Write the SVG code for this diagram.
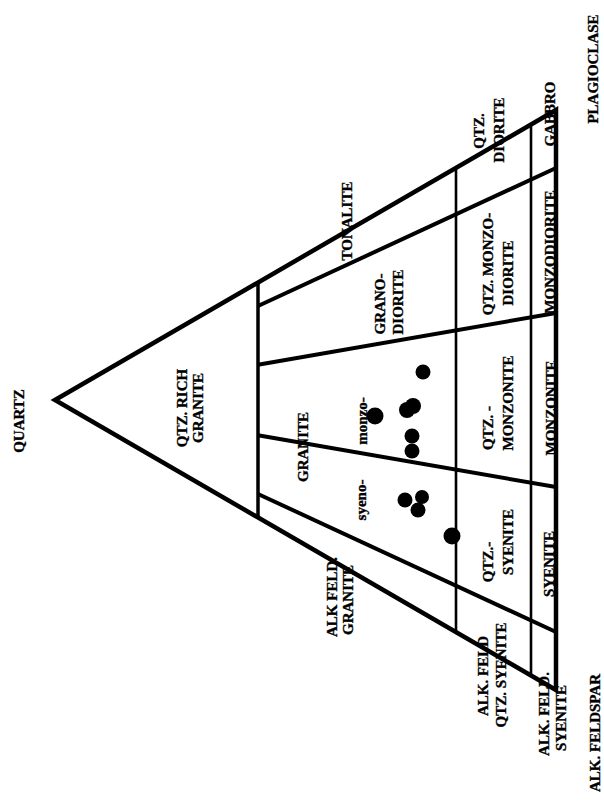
<svg xmlns="http://www.w3.org/2000/svg" width="604" height="803" viewBox="0 0 604 803">
<style>
text{font-family:"Liberation Serif","Times New Roman",serif;font-weight:bold;font-size:15px;fill:#000;stroke:#000;stroke-width:0.35;text-anchor:middle}
.edge{fill:none;stroke:#000;stroke-width:4.5;stroke-linejoin:miter}
.rad{stroke:#000;stroke-width:4;fill:none}
.q60{stroke:#000;stroke-width:3.5}
.qv{stroke:#000;stroke-width:2.6}
.pt{fill:#000}
</style>
<rect width="604" height="803" fill="#fff"/>
<g id="connectors">
<polygon class="edge" points="55,400 556,110 556,690"/>
<line class="q60" x1="258" y1="282.5" x2="258" y2="517.5"/>
<line class="qv" x1="456" y1="168" x2="456" y2="632"/>
<line class="qv" x1="531" y1="124.5" x2="531" y2="675.5"/>
<line class="rad" x1="258" y1="494" x2="556" y2="632"/>
<line class="rad" x1="258" y1="435.3" x2="556" y2="487"/>
<line class="rad" x1="258" y1="364.7" x2="556" y2="313"/>
<line class="rad" x1="258" y1="306" x2="556" y2="168"/>
</g>
<g id="apex-labels">
<text id="quartz" transform="translate(24,421) rotate(-90)">QUARTZ</text>
<text id="plagioclase" transform="translate(598,69) rotate(-90)">PLAGIOCLASE</text>
<text id="alkfeldspar" transform="translate(600,733) rotate(-90)">ALK. FELDSPAR</text>
</g>
<g id="qtz-rich-granite">
<text transform="translate(187,408) rotate(-90)">QTZ. RICH</text>
<text transform="translate(203,408) rotate(-90)">GRANITE</text>
</g>
<g id="tonalite"><text transform="translate(352,221) rotate(-90)">TONALITE</text></g>
<g id="granodiorite">
<text transform="translate(385,304) rotate(-90)">GRANO-</text>
<text transform="translate(403,302) rotate(-90)">DIORITE</text>
</g>
<g id="granite">
<text transform="translate(308,447) rotate(-90)">GRANITE</text>
<text transform="translate(367,421) rotate(-90)">monzo-</text>
<text transform="translate(366,500) rotate(-90)">syeno-</text>
</g>
<g id="alk-feld-granite">
<text transform="translate(337,597) rotate(-90)">ALK FELD.</text>
<text transform="translate(353,600) rotate(-90)">GRANITE</text>
</g>
<g id="qtz-diorite">
<text transform="translate(484,131) rotate(-90)">QTZ.</text>
<text transform="translate(504,130) rotate(-90)">DIORITE</text>
</g>
<g id="qtz-monzodiorite">
<text transform="translate(493,264) rotate(-90)">QTZ. MONZO-</text>
<text transform="translate(513,273) rotate(-90)">DIORITE</text>
</g>
<g id="qtz-monzonite">
<text transform="translate(493,428) rotate(-90)">QTZ. -</text>
<text transform="translate(513,403) rotate(-90)">MONZONITE</text>
</g>
<g id="qtz-syenite">
<text transform="translate(493,562) rotate(-90)">QTZ.-</text>
<text transform="translate(513,542) rotate(-90)">SYENITE</text>
</g>
<g id="alk-feld-qtz-syenite">
<text transform="translate(488,676) rotate(-90)">ALK. FELD</text>
<text transform="translate(506,675) rotate(-90)">QTZ. SYENITE</text>
</g>
<g id="gabbro"><text transform="translate(555,114) rotate(-90)">GABBRO</text></g>
<g id="monzodiorite"><text transform="translate(555,252) rotate(-90)">MONZODIORITE</text></g>
<g id="monzonite"><text transform="translate(556,408) rotate(-90)">MONZONITE</text></g>
<g id="syenite"><text transform="translate(554,564) rotate(-90)">SYENITE</text></g>
<g id="alk-feld-syenite">
<text transform="translate(549,714) rotate(-90)">ALK. FELD.</text>
<text transform="translate(566,718) rotate(-90)">SYENITE</text>
</g>
<g id="samples">
<circle class="pt" cx="423" cy="372" r="7.5"/>
<circle class="pt" cx="375" cy="416" r="8.5"/>
<circle class="pt" cx="407" cy="410" r="8"/>
<circle class="pt" cx="413" cy="406" r="8"/>
<circle class="pt" cx="412" cy="436" r="7.5"/>
<circle class="pt" cx="412" cy="451" r="7.5"/>
<circle class="pt" cx="405" cy="500" r="7.5"/>
<circle class="pt" cx="422" cy="497" r="7"/>
<circle class="pt" cx="418" cy="510" r="7.5"/>
<circle class="pt" cx="452" cy="536" r="8.5"/>
</g>
</svg>
